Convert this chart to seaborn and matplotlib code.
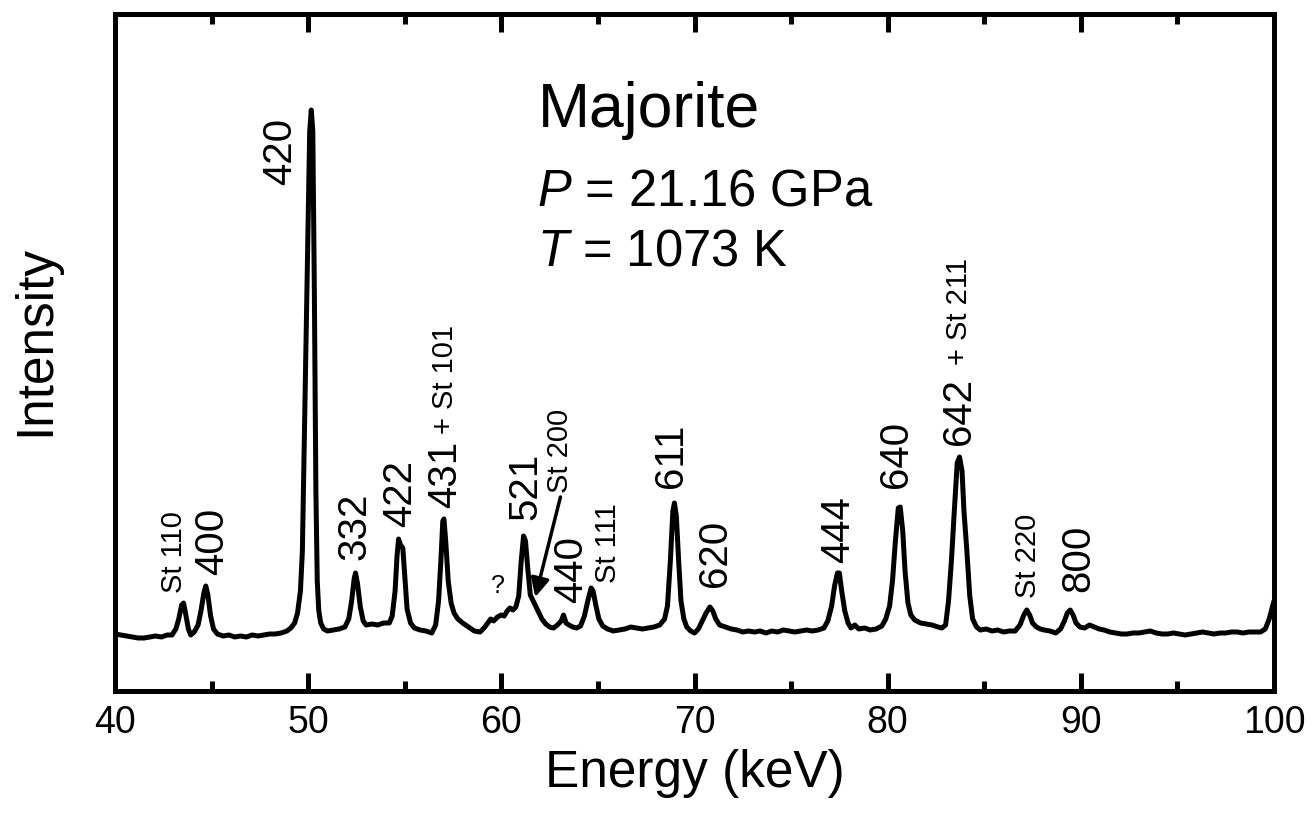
import matplotlib
matplotlib.use("Agg")
import matplotlib.pyplot as plt
import seaborn as sns
import pandas as pd

# ---- Spectrum, in segments (energy keV, intensity arb.) ----
e_start = [40.0, 40.3, 40.6, 40.9, 41.2, 41.5, 41.8, 42.1, 42.4, 42.7, 42.95]
i_start = [57, 56, 55, 54, 53, 53, 54, 55, 54, 56, 56]
e_st110 = [43.15, 43.3, 43.45, 43.55, 43.65, 43.8, 43.92]
i_st110 = [62, 72, 86, 88, 78, 62, 56]
e_400 = [44.1, 44.3, 44.45, 44.6, 44.7, 44.8, 44.95, 45.1, 45.3]
i_400 = [59, 66, 80, 98, 105, 97, 75, 62, 57]
e_flat1 = [45.6, 45.9, 46.2, 46.5, 46.8, 47.1, 47.4, 47.7, 48.0, 48.3, 48.6, 48.9, 49.1, 49.3]
i_flat1 = [55, 56, 54, 55, 54, 56, 55, 56, 57, 57, 58, 60, 63, 68]
e_420 = [49.45, 49.6, 49.7, 49.8, 49.95, 50.08, 50.16, 50.24, 50.32, 50.4, 50.47,
         50.55, 50.65, 50.8, 51.0, 51.3, 51.6, 51.9]
i_420 = [78, 100, 140, 250, 420, 560, 581, 560, 400, 200, 110,
         80, 68, 62, 60, 61, 62, 64]
e_332 = [52.1, 52.25, 52.38, 52.45, 52.55, 52.7, 52.85, 53.0, 53.3, 53.6, 53.9, 54.2, 54.35]
i_332 = [72, 90, 112, 118, 108, 84, 70, 66, 67, 66, 68, 68, 75]
e_422 = [54.5, 54.6, 54.68, 54.78, 54.9, 55.0, 55.12, 55.3, 55.5, 55.8, 56.1, 56.4, 56.6]
i_422 = [100, 135, 152, 146, 143, 115, 82, 68, 63, 61, 60, 58, 66]
e_431 = [56.75, 56.87, 56.97, 57.03, 57.12, 57.25, 57.4, 57.55, 57.75, 58.0, 58.3, 58.6,
         58.9, 59.1, 59.3, 59.45, 59.6, 59.8, 60.0, 60.15, 60.3, 60.45, 60.6, 60.75, 60.9]
i_431 = [90, 130, 170, 172, 150, 110, 88, 78, 72, 68, 64, 60,
         59, 63, 68, 72, 70, 74, 76, 75, 80, 83, 81, 84, 95]
e_521 = [61.03, 61.15, 61.25, 61.38, 61.5, 61.65, 61.8, 61.95, 62.1, 62.3, 62.5, 62.7,
         62.9, 63.1, 63.22, 63.35, 63.5, 63.7, 63.9, 64.1]
i_521 = [130, 155, 150, 120, 96, 90, 84, 78, 72, 67, 64, 63,
         66, 70, 76, 68, 66, 64, 63, 65]
e_st111 = [64.3, 64.5, 64.65, 64.75, 64.9, 65.05, 65.25, 65.5, 65.8, 66.1, 66.4, 66.7,
           67.0, 67.3, 67.6, 67.9, 68.2, 68.45]
i_st111 = [75, 92, 103, 100, 85, 72, 65, 62, 60, 61, 62, 64,
           63, 62, 63, 64, 66, 72]
e_611 = [68.6, 68.75, 68.88, 68.96, 69.06, 69.18, 69.3, 69.45, 69.6, 69.8, 70.0, 70.2,
         70.4, 70.6, 70.8, 70.95, 71.1, 71.3, 71.6, 71.9, 72.2, 72.5, 72.8, 73.1,
         73.4, 73.7, 74.0, 74.3, 74.6, 74.9, 75.2, 75.5, 75.8, 76.1, 76.4, 76.7, 76.9]
i_611 = [85, 130, 180, 188, 175, 130, 90, 72, 64, 60, 58, 62,
         70, 78, 84, 80, 72, 66, 64, 62, 61, 59, 60, 59,
         60, 58, 60, 59, 61, 60, 59, 60, 61, 60, 61, 63, 70]
e_444 = [77.1, 77.25, 77.4, 77.5, 77.62, 77.78, 77.95, 78.1, 78.3, 78.5, 78.8, 79.1, 79.4, 79.7]
i_444 = [85, 105, 118, 118, 100, 80, 68, 63, 66, 62, 63, 61, 62, 65]
e_640 = [79.9, 80.1, 80.25, 80.4, 80.55, 80.65, 80.78, 80.9, 81.05, 81.2, 81.4, 81.7,
         82.0, 82.3, 82.6, 82.8, 83.0]
i_640 = [72, 85, 110, 150, 183, 184, 160, 120, 88, 76, 71, 68,
         67, 66, 64, 63, 66]
e_642 = [83.15, 83.3, 83.45, 83.6, 83.72, 83.85, 83.95, 84.1, 84.25, 84.4, 84.6, 84.8,
         85.1, 85.4, 85.7, 86.0, 86.3, 86.6, 86.85]
i_642 = [90, 130, 180, 228, 234, 220, 180, 140, 95, 72, 64, 61,
         62, 60, 61, 59, 60, 60, 66]
e_st220 = [87.05, 87.2, 87.35, 87.5, 87.7, 87.9, 88.1, 88.4, 88.7, 88.95]
i_st220 = [76, 81, 76, 68, 64, 62, 61, 60, 58, 62]
e_800 = [89.15, 89.3, 89.45, 89.6, 89.75, 89.95, 90.2, 90.45, 90.7, 90.95, 91.2, 91.5,
         91.8, 92.1, 92.4, 92.7, 93.0, 93.3, 93.6, 93.9, 94.2, 94.5, 94.8, 95.1,
         95.4, 95.7, 96.0, 96.3, 96.6, 96.9, 97.2, 97.5, 97.8, 98.1, 98.4, 98.7,
         99.0, 99.3, 99.55, 99.75, 100.0]
i_800 = [70, 78, 81, 76, 68, 64, 63, 66, 64, 62, 61, 59,
         58, 57, 57, 58, 58, 59, 60, 58, 57, 57, 58, 57,
         56, 57, 58, 59, 58, 57, 58, 58, 59, 59, 58, 59,
         59, 59, 62, 72, 90]

energy = (e_start + e_st110 + e_400 + e_flat1 + e_420 + e_332 + e_422 + e_431 + e_521
          + e_st111 + e_611 + e_444 + e_640 + e_642 + e_st220 + e_800)
intensity = (i_start + i_st110 + i_400 + i_flat1 + i_420 + i_332 + i_422 + i_431 + i_521
             + i_st111 + i_611 + i_444 + i_640 + i_642 + i_st220 + i_800)

# ---- Peak labels: text, energy of label centre, intensity at label bottom ----
labels = ["St 110", "400", "420", "332", "422", "431", "521", "St 200",
          "440", "St 111", "611", "620", "444", "640", "642", "St 220", "800"]
label_e = [43.08, 45.05, 48.55, 52.38, 54.77, 57.10, 61.24, 63.06,
           63.63, 65.54, 68.76, 71.04, 77.46, 80.41, 83.68, 87.25, 89.89]
label_i = [98, 116, 506, 131, 164, 183, 171, 198,
           88, 108, 203, 104, 128, 203, 246, 93, 99]
label_big = [False, True, True, True, True, True, True, False,
             True, False, True, True, True, True, True, False, True]
extra_labels = ["+ St 101", "+ St 211"]
extra_e = [57.10, 83.68]
extra_i = [257, 326]

sns.set_style("ticks", rc={"text.color": "black", "axes.labelcolor": "black",
                           "xtick.color": "black", "ytick.color": "black",
                           "axes.edgecolor": "black"})
plt.rcParams["font.family"] = ["Liberation Sans", "DejaVu Sans"]
plt.rcParams["mathtext.fontset"] = "custom"
plt.rcParams["mathtext.it"] = "Liberation Sans:italic"
plt.rcParams["mathtext.rm"] = "Liberation Sans"

fig = plt.figure(figsize=(13.12, 8.21), dpi=100)
ax = fig.add_axes([115 / 1312, 1 - 691 / 821, (1274 - 115) / 1312, (691 - 14) / 821])

df = pd.DataFrame({"Energy": energy, "Intensity": intensity})
sns.lineplot(data=df, x="Energy", y="Intensity", color="black", lw=3.6, ax=ax,
             sort=False, estimator=None)

ax.set_xlim(40, 100)
ax.set_ylim(0, 677)
ax.set_xticks([40, 50, 60, 70, 80, 90, 100])
ax.set_xticks([45, 55, 65, 75, 85, 95], minor=True)
ax.set_yticks([])
ax.tick_params(axis="x", which="both", direction="in", top=True, bottom=True,
               width=3.6, labelsize=27, pad=10)
ax.tick_params(axis="x", which="major", length=13)
ax.tick_params(axis="x", which="minor", length=7)
for s in ax.spines.values():
    s.set_linewidth(3.6)
    s.set_visible(True)

ax.set_xlabel("Energy (keV)", fontsize=37, labelpad=6)
ax.set_ylabel("Intensity", fontsize=37)
ax.yaxis.set_label_coords(-0.047, 0.518)

for t, xv, yb, big in zip(labels, label_e, label_i, label_big):
    ax.text(xv, yb, t, rotation=90, ha="center", va="bottom",
            fontsize=29 if big else 21)
for t, xv, yb in zip(extra_labels, extra_e, extra_i):
    ax.text(xv, yb, t, rotation=90, ha="center", va="bottom", fontsize=21)

ax.text(59.84, 93, "?", ha="center", va="bottom", fontsize=18)

ax.annotate("", xy=(61.76, 94), xytext=(63.06, 194),
            arrowprops=dict(arrowstyle="-|>", lw=2.5, color="black", mutation_scale=28,
                            shrinkA=0, shrinkB=0))

ax.text(61.87, 564, "Majorite", fontsize=45, ha="left", va="baseline")
ax.text(61.87, 486, "$P$ = 21.16 GPa", fontsize=36.5, ha="left", va="baseline")
ax.text(61.87, 426, "$T$ = 1073 K", fontsize=36.5, ha="left", va="baseline")

fig.savefig("out.png", dpi=100)
